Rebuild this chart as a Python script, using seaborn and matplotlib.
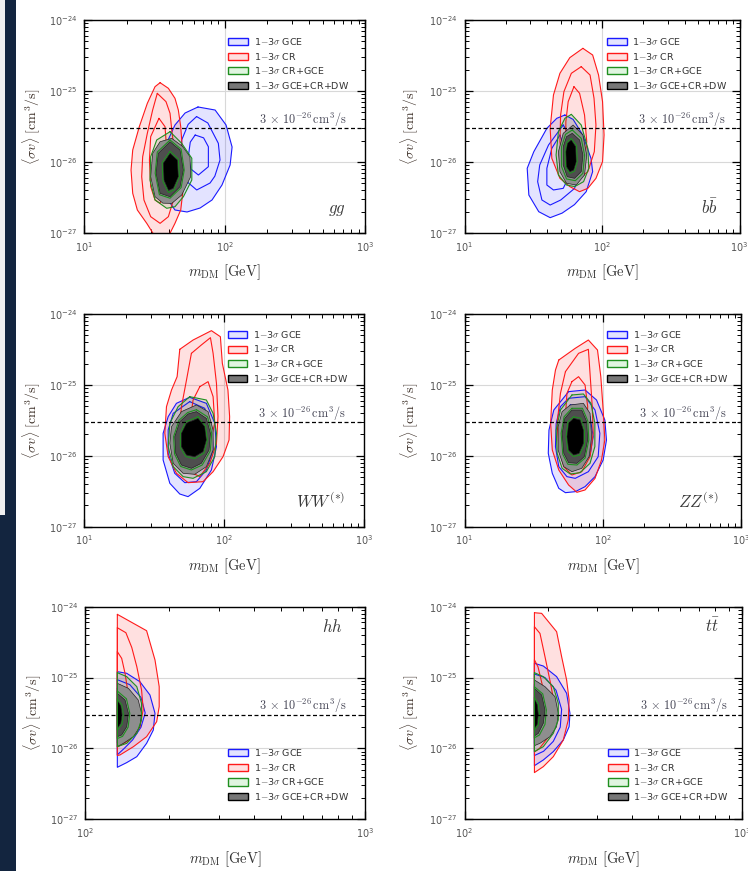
import numpy as np
import matplotlib
matplotlib.use("Agg")
import matplotlib.pyplot as plt
from matplotlib.patches import Patch, Rectangle
from matplotlib.ticker import NullFormatter, LogLocator, FuncFormatter
import seaborn as sns

# ---------------------------------------------------------------------------
# Contour vertices.
# Each point: (log10 m_DM [GeV], log10 <sigma v> [cm^3/s]); levels: 3s, 2s, 1s
# ---------------------------------------------------------------------------
gg_gce = [
    [(1.810,-25.225),(1.932,-25.268),(2.010,-25.479),(2.053,-25.789),(2.039,-26.042),(1.981,-26.324),(1.910,-26.535),(1.825,-26.648),(1.732,-26.704),(1.646,-26.676),(1.597,-26.535),(1.575,-26.113),(1.597,-25.690),(1.646,-25.479),(1.718,-25.310)],
    [(1.800,-25.36),(1.880,-25.45),(1.955,-25.737),(1.967,-25.972),(1.930,-26.20),(1.896,-26.296),(1.801,-26.394),(1.718,-26.254),(1.690,-25.95),(1.694,-25.69),(1.740,-25.47)],
    [(1.790,-25.62),(1.850,-25.66),(1.884,-25.785),(1.884,-26.066),(1.813,-26.183),(1.760,-26.10),(1.741,-25.925),(1.755,-25.72)],
]
gg_cr = [
    [(1.540,-24.883),(1.599,-24.962),(1.646,-25.103),(1.670,-25.268),(1.687,-25.502),(1.694,-25.690),(1.701,-25.972),(1.701,-26.441),(1.687,-26.676),(1.646,-26.864),(1.599,-27.05),(1.504,-27.05),(1.445,-26.864),(1.378,-26.676),(1.345,-26.441),(1.333,-26.113),(1.345,-25.831),(1.392,-25.502),(1.449,-25.174),(1.504,-24.939)],
    [(1.520,-25.033),(1.582,-25.150),(1.611,-25.315),(1.623,-25.549),(1.635,-25.737),(1.640,-26.113),(1.635,-26.535),(1.599,-26.770),(1.540,-26.864),(1.473,-26.770),(1.425,-26.535),(1.409,-26.207),(1.416,-25.925),(1.449,-25.596),(1.487,-25.268)],
    [(1.532,-25.385),(1.575,-25.502),(1.582,-25.690),(1.585,-26.0),(1.575,-26.347),(1.540,-26.582),(1.504,-26.535),(1.473,-26.347),(1.464,-25.972),(1.473,-25.643)],
]
gg_comb = [
    [(1.611,-25.573),(1.694,-25.737),(1.766,-25.948),(1.766,-26.254),(1.706,-26.489),(1.646,-26.630),(1.587,-26.652),(1.504,-26.535),(1.468,-26.254),(1.473,-25.925),(1.516,-25.690)],
    [(1.611,-25.69),(1.690,-25.82),(1.712,-26.113),(1.690,-26.36),(1.611,-26.51),(1.535,-26.46),(1.505,-26.159),(1.520,-25.86)],
    [(1.611,-25.85),(1.670,-25.96),(1.678,-26.207),(1.640,-26.39),(1.600,-26.43),(1.560,-26.27),(1.555,-26.01)],
]
gg_dw = [
    [(1.623,-25.667),(1.700,-25.78),(1.753,-25.925),(1.758,-26.207),(1.694,-26.465),(1.623,-26.583),(1.560,-26.58),(1.504,-26.489),(1.473,-26.207),(1.487,-25.878),(1.540,-25.714)],
    [(1.611,-25.714),(1.682,-25.831),(1.706,-26.113),(1.682,-26.348),(1.611,-26.489),(1.540,-26.441),(1.511,-26.159),(1.527,-25.878)],
    [(1.611,-25.878),(1.663,-25.972),(1.670,-26.207),(1.634,-26.370),(1.600,-26.40),(1.568,-26.254),(1.563,-26.018)],
]

bb_gce = [
    [(1.730,-25.338),(1.790,-25.40),(1.860,-25.62),(1.920,-25.95),(1.932,-26.136),(1.885,-26.418),(1.800,-26.60),(1.710,-26.72),(1.623,-26.784),(1.540,-26.70),(1.468,-26.465),(1.456,-26.089),(1.504,-25.855),(1.599,-25.526),(1.671,-25.385)],
    [(1.718,-25.479),(1.790,-25.714),(1.837,-26.089),(1.801,-26.371),(1.700,-26.535),(1.623,-26.606),(1.563,-26.535),(1.532,-26.277),(1.547,-26.042),(1.611,-25.761)],
    [(1.694,-25.620),(1.742,-25.901),(1.754,-26.230),(1.718,-26.371),(1.647,-26.394),(1.599,-26.324),(1.599,-26.089),(1.635,-25.808)],
]
bb_cr = [
    [(1.861,-24.399),(1.932,-24.493),(1.975,-24.775),(2.004,-25.150),(2.015,-25.620),(2.004,-25.995),(1.956,-26.230),(1.897,-26.371),(1.837,-26.418),(1.766,-26.347),(1.694,-26.230),(1.635,-25.948),(1.623,-25.526),(1.647,-25.056),(1.694,-24.751),(1.766,-24.530)],
    [(1.849,-24.657),(1.913,-24.775),(1.942,-25.103),(1.956,-25.479),(1.944,-25.855),(1.897,-26.136),(1.837,-26.230),(1.766,-26.183),(1.713,-25.995),(1.694,-25.714),(1.699,-25.338),(1.723,-25.009),(1.777,-24.751)],
    [(1.796,-24.939),(1.837,-25.033),(1.873,-25.338),(1.889,-25.714),(1.873,-25.995),(1.825,-26.089),(1.766,-26.042),(1.737,-25.808),(1.737,-25.432),(1.754,-25.150)],
]
bb_comb = [
    [(1.777,-25.329),(1.849,-25.479),(1.897,-25.808),(1.904,-26.089),(1.866,-26.277),(1.801,-26.347),(1.742,-26.324),(1.683,-26.183),(1.666,-25.901),(1.683,-25.573),(1.730,-25.385)],
    [(1.784,-25.549),(1.849,-25.667),(1.873,-25.901),(1.861,-26.160),(1.806,-26.263),(1.742,-26.239),(1.706,-26.066),(1.706,-25.784),(1.735,-25.610)],
    [(1.777,-25.67),(1.815,-25.77),(1.820,-25.995),(1.800,-26.13),(1.766,-26.16),(1.736,-26.08),(1.730,-25.855),(1.745,-25.72)],
]
bb_dw = [
    [(1.790,-25.479),(1.861,-25.620),(1.889,-25.901),(1.873,-26.183),(1.813,-26.324),(1.742,-26.300),(1.694,-26.136),(1.683,-25.855),(1.718,-25.596)],
    [(1.784,-25.596),(1.837,-25.690),(1.861,-25.901),(1.849,-26.136),(1.801,-26.230),(1.747,-26.207),(1.718,-26.042),(1.718,-25.784),(1.742,-25.643)],
    [(1.777,-25.690),(1.808,-25.784),(1.813,-25.995),(1.794,-26.113),(1.766,-26.136),(1.742,-26.066),(1.737,-25.855),(1.749,-25.737)],
]

ww_gce = [
    [(1.753,-25.175),(1.872,-25.260),(1.932,-25.542),(1.944,-25.871),(1.908,-26.200),(1.825,-26.459),(1.741,-26.576),(1.682,-26.539),(1.611,-26.388),(1.563,-26.059),(1.563,-25.683),(1.599,-25.448),(1.658,-25.260)],
    [(1.753,-25.236),(1.860,-25.330),(1.915,-25.636),(1.920,-25.918),(1.872,-26.200),(1.801,-26.365),(1.718,-26.379),(1.646,-26.247),(1.599,-25.965),(1.599,-25.636),(1.635,-25.401)],
    [(1.765,-25.354),(1.848,-25.448),(1.891,-25.730),(1.872,-26.012),(1.813,-26.177),(1.730,-26.200),(1.658,-26.083),(1.635,-25.824),(1.658,-25.542)],
]
ww_cr = [
    [(1.682,-24.498),(1.777,-24.367),(1.908,-24.235),(1.972,-24.320),(1.986,-24.696),(2.026,-25.072),(2.038,-25.448),(2.034,-25.777),(1.991,-26.012),(1.920,-26.224),(1.848,-26.365),(1.741,-26.379),(1.658,-26.247),(1.599,-26.012),(1.575,-25.683),(1.587,-25.307),(1.623,-25.072),(1.663,-24.884)],
    [(1.765,-24.555),(1.836,-24.437),(1.901,-24.334),(1.920,-24.555),(1.944,-24.978),(1.955,-25.448),(1.944,-25.824),(1.896,-26.106),(1.825,-26.294),(1.753,-26.224),(1.694,-26.106),(1.670,-25.777),(1.694,-25.307),(1.730,-24.931)],
    [(1.825,-25.025),(1.884,-24.954),(1.920,-25.166),(1.932,-25.542),(1.896,-25.824),(1.825,-25.918),(1.765,-25.824),(1.753,-25.542),(1.777,-25.213)],
]
ww_comb = [
    [(1.753,-25.166),(1.872,-25.213),(1.920,-25.401),(1.944,-25.683),(1.932,-26.012),(1.872,-26.224),(1.777,-26.318),(1.706,-26.294),(1.635,-26.153),(1.599,-25.871),(1.611,-25.542),(1.670,-25.307)],
    [(1.801,-25.35),(1.880,-25.45),(1.910,-25.683),(1.900,-25.93),(1.842,-26.13),(1.765,-26.20),(1.688,-26.15),(1.645,-25.975),(1.638,-25.730),(1.676,-25.50),(1.738,-25.39)],
    [(1.813,-25.45),(1.866,-25.58),(1.880,-25.777),(1.855,-25.96),(1.789,-26.04),(1.725,-26.01),(1.686,-25.88),(1.686,-25.68),(1.725,-25.52)],
]
ww_dw = [
    [(1.801,-25.283),(1.884,-25.377),(1.920,-25.636),(1.920,-25.918),(1.872,-26.153),(1.789,-26.261),(1.706,-26.247),(1.635,-26.106),(1.611,-25.824),(1.623,-25.589),(1.694,-25.377)],
    [(1.801,-25.377),(1.872,-25.472),(1.901,-25.683),(1.891,-25.918),(1.836,-26.106),(1.765,-26.177),(1.694,-26.130),(1.653,-25.965),(1.646,-25.730),(1.682,-25.519),(1.741,-25.410)],
    [(1.813,-25.472),(1.860,-25.589),(1.872,-25.777),(1.848,-25.942),(1.789,-26.012),(1.730,-25.989),(1.694,-25.871),(1.694,-25.683),(1.730,-25.542)],
]

zz_gce = [
    [(1.753,-25.095),(1.872,-25.072),(1.955,-25.213),(2.015,-25.495),(2.027,-25.777),(2.003,-26.059),(1.944,-26.294),(1.872,-26.435),(1.801,-26.506),(1.730,-26.520),(1.682,-26.459),(1.635,-26.247),(1.606,-25.965),(1.611,-25.636),(1.646,-25.354)],
    [(1.753,-25.189),(1.872,-25.166),(1.944,-25.354),(1.979,-25.683),(1.967,-26.012),(1.896,-26.224),(1.801,-26.318),(1.741,-26.294),(1.682,-26.153),(1.658,-25.871),(1.663,-25.542),(1.694,-25.307)],
    [(1.765,-25.283),(1.860,-25.283),(1.908,-25.448),(1.931,-25.730),(1.908,-25.989),(1.848,-26.130),(1.777,-26.177),(1.718,-26.083),(1.694,-25.824),(1.706,-25.495)],
]
zz_cr = [
    [(1.682,-24.649),(1.801,-24.484),(1.896,-24.367),(1.962,-24.508),(1.986,-24.884),(2.003,-25.354),(2.015,-25.777),(1.991,-26.059),(1.944,-26.318),(1.872,-26.482),(1.813,-26.515),(1.753,-26.412),(1.682,-26.200),(1.635,-25.918),(1.623,-25.542),(1.635,-25.072),(1.658,-24.790)],
    [(1.730,-24.813),(1.825,-24.555),(1.896,-24.498),(1.908,-24.837),(1.924,-25.307),(1.931,-25.683),(1.908,-26.012),(1.848,-26.224),(1.777,-26.271),(1.718,-26.153),(1.682,-25.871),(1.670,-25.542),(1.694,-25.119)],
    [(1.777,-24.954),(1.825,-24.884),(1.872,-25.001),(1.891,-25.307),(1.884,-25.636),(1.848,-25.871),(1.789,-25.918),(1.741,-25.777),(1.730,-25.448),(1.741,-25.119)],
]
zz_comb = [
    [(1.777,-25.142),(1.860,-25.128),(1.915,-25.260),(1.943,-25.542),(1.943,-25.871),(1.908,-26.106),(1.836,-26.238),(1.765,-26.257),(1.706,-26.177),(1.670,-25.965),(1.663,-25.636),(1.694,-25.354)],
    [(1.777,-25.33),(1.853,-25.33),(1.892,-25.51),(1.899,-25.777),(1.873,-26.03),(1.813,-26.13),(1.748,-26.12),(1.711,-25.98),(1.699,-25.683),(1.720,-25.45)],
    [(1.789,-25.45),(1.842,-25.47),(1.868,-25.636),(1.868,-25.84),(1.832,-25.99),(1.789,-26.01),(1.748,-25.94),(1.734,-25.730),(1.748,-25.52)],
]
zz_dw = [
    [(1.765,-25.283),(1.860,-25.260),(1.908,-25.401),(1.920,-25.730),(1.901,-26.012),(1.848,-26.177),(1.777,-26.224),(1.718,-26.153),(1.677,-25.918),(1.677,-25.589),(1.706,-25.377)],
    [(1.777,-25.354),(1.848,-25.354),(1.884,-25.519),(1.891,-25.777),(1.867,-26.012),(1.813,-26.106),(1.753,-26.097),(1.718,-25.965),(1.706,-25.683),(1.725,-25.472)],
    [(1.789,-25.472),(1.836,-25.495),(1.860,-25.636),(1.860,-25.824),(1.829,-25.965),(1.789,-25.989),(1.753,-25.918),(1.741,-25.730),(1.753,-25.542)],
]

hh_gce = [
    [(2.1155,-24.917),(2.149,-24.94),(2.196,-25.058),(2.232,-25.246),(2.250,-25.504),(2.244,-25.74),(2.220,-25.928),(2.185,-26.116),(2.149,-26.20),(2.1155,-26.266)],
    [(2.1155,-25.03),(2.16,-25.10),(2.20,-25.28),(2.215,-25.50),(2.20,-25.70),(2.17,-25.88),(2.14,-26.00),(2.1155,-26.09)],
    [(2.1155,-25.15),(2.15,-25.22),(2.18,-25.40),(2.185,-25.55),(2.17,-25.72),(2.14,-25.85),(2.1155,-25.92)],
]
hh_cr = [
    [(2.1155,-24.108),(2.220,-24.339),(2.250,-24.752),(2.265,-25.128),(2.265,-25.41),(2.256,-25.622),(2.220,-25.834),(2.173,-25.975),(2.125,-26.092),(2.1155,-26.10)],
    [(2.1155,-24.297),(2.146,-24.367),(2.167,-24.575),(2.185,-24.846),(2.202,-25.175),(2.208,-25.45),(2.196,-25.70),(2.160,-25.88),(2.1155,-25.98)],
    [(2.1155,-24.635),(2.131,-24.729),(2.143,-24.940),(2.155,-25.25),(2.155,-25.55),(2.140,-25.75),(2.1155,-25.85)],
]
hh_comb = [
    [(2.1155,-24.931),(2.149,-24.987),(2.185,-25.128),(2.202,-25.363),(2.202,-25.598),(2.185,-25.787),(2.149,-25.928),(2.1155,-25.975)],
    [(2.1155,-25.19),(2.148,-25.30),(2.160,-25.504),(2.154,-25.70),(2.134,-25.83),(2.1155,-25.86)],
    [(2.1155,-25.30),(2.132,-25.39),(2.137,-25.52),(2.132,-25.66),(2.1155,-25.74)],
]
hh_dw = [
    [(2.1155,-25.081),(2.155,-25.152),(2.190,-25.316),(2.202,-25.504),(2.196,-25.693),(2.173,-25.834),(2.137,-25.928),(2.1155,-25.975)],
    [(2.1155,-25.222),(2.143,-25.316),(2.155,-25.504),(2.149,-25.693),(2.131,-25.81),(2.1155,-25.834)],
    [(2.1155,-25.32),(2.128,-25.40),(2.132,-25.52),(2.128,-25.64),(2.1155,-25.72)],
]

tt_gce = [
    [(2.252,-24.799),(2.284,-24.837),(2.332,-24.987),(2.368,-25.222),(2.380,-25.504),(2.377,-25.693),(2.356,-25.881),(2.320,-26.045),(2.284,-26.163),(2.252,-26.243)],
    [(2.252,-24.95),(2.290,-25.00),(2.330,-25.18),(2.350,-25.45),(2.345,-25.70),(2.320,-25.90),(2.285,-26.04),(2.252,-26.10)],
    [(2.252,-25.10),(2.285,-25.15),(2.315,-25.32),(2.325,-25.52),(2.315,-25.72),(2.29,-25.86),(2.252,-25.93)],
]
tt_cr = [
    [(2.252,-24.085),(2.278,-24.094),(2.332,-24.353),(2.350,-24.705),(2.368,-25.034),(2.377,-25.316),(2.374,-25.598),(2.356,-25.881),(2.320,-26.116),(2.284,-26.257),(2.252,-26.341)],
    [(2.252,-24.283),(2.272,-24.377),(2.290,-24.705),(2.310,-25.08),(2.325,-25.40),(2.320,-25.65),(2.300,-25.85),(2.270,-26.00),(2.252,-26.05)],
    [(2.252,-24.75),(2.265,-24.85),(2.280,-25.10),(2.290,-25.40),(2.285,-25.62),(2.268,-25.80),(2.252,-25.86)],
]
tt_comb = [
    [(2.252,-24.931),(2.284,-24.987),(2.320,-25.128),(2.338,-25.363),(2.338,-25.598),(2.320,-25.787),(2.284,-25.975),(2.252,-26.045)],
    [(2.252,-25.13),(2.282,-25.23),(2.295,-25.457),(2.290,-25.66),(2.270,-25.81),(2.252,-25.85)],
    [(2.252,-25.28),(2.266,-25.37),(2.270,-25.52),(2.266,-25.67),(2.252,-25.74)],
]
tt_dw = [
    [(2.252,-25.034),(2.290,-25.128),(2.326,-25.269),(2.338,-25.504),(2.332,-25.693),(2.308,-25.834),(2.272,-25.928),(2.252,-25.961)],
    [(2.252,-25.152),(2.278,-25.246),(2.290,-25.457),(2.284,-25.645),(2.266,-25.787),(2.252,-25.824)],
    [(2.252,-25.30),(2.262,-25.38),(2.266,-25.52),(2.262,-25.66),(2.252,-25.72)],
]

channel_labels = [r"$gg$", r"$b\bar{b}$", r"$WW^{(*)}$", r"$ZZ^{(*)}$", r"$hh$", r"$t\bar{t}$"]
x_ranges = [(10, 1000), (10, 1000), (10, 1000), (10, 1000), (100, 1000), (100, 1000)]
y_range = (1e-27, 1e-24)
thermal_xsec = 3e-26
legend_labels = [r"1$-$3$\sigma$ GCE", r"1$-$3$\sigma$ CR",
                 r"1$-$3$\sigma$ CR+GCE", r"1$-$3$\sigma$ GCE+CR+DW"]

# ---------------------------------------------------------------------------
sns.set_style("ticks")
plt.rcParams["font.family"] = ["DejaVu Sans"]
plt.rcParams["mathtext.fontset"] = "cm"

W, H = 748, 871
fig = plt.figure(figsize=(W / 100, H / 100), dpi=100)
fig.patch.set_facecolor("white")
fig.patches.append(Rectangle((0, 0), 16 / W, 1, transform=fig.transFigure,
                             facecolor="#13253f", edgecolor="none", zorder=-5))
fig.patches.append(Rectangle((0, 1 - 515 / H), 5 / W, 515 / H, transform=fig.transFigure,
                             facecolor="#f0f0f0", edgecolor="none", zorder=-4))

# pixel boxes (left, right, top, bottom)
boxes = [(84.3, 365, 20, 233), (464.5, 739.5, 20, 233),
         (84.3, 364.3, 314, 526.7), (464.5, 741, 314, 526.7),
         (85, 365, 606.7, 819.3), (464.5, 742, 606.7, 819.3)]

panels = [
    (gg_gce, gg_cr, gg_comb, gg_dw),
    (bb_gce, bb_cr, bb_comb, bb_dw),
    (ww_gce, ww_cr, ww_comb, ww_dw),
    (zz_gce, zz_cr, zz_comb, zz_dw),
    (hh_gce, hh_cr, hh_comb, hh_dw),
    (tt_gce, tt_cr, tt_comb, tt_dw),
]

BLUE_F = (0.0, 0.0, 1.0, 0.11)
RED_F = (1.0, 0.0, 0.0, 0.12)
GREEN_F = (0.0, 0.45, 0.0, 0.10)
GRAYS = ["#8e8e8e", "#4e4e4e", "#000000"]
GREEN_L = "#1f8f1f"


def xy(poly):
    a = np.asarray(poly, dtype=float)
    a = np.vstack([a, a[:1]])
    return np.power(10.0, a[:, 0]), np.power(10.0, a[:, 1])


def outline(ax, poly, color, lw, z):
    x, y = xy(poly)
    sns.lineplot(x=x, y=y, sort=False, estimator=None, color=color, lw=lw,
                 zorder=z, ax=ax)


def pow_fmt(v, pos):
    e = int(round(np.log10(v)))
    return r"$\mathregular{10^{%d}}$" % e


for i, (box, sets) in enumerate(zip(boxes, panels)):
    l, r, t, b = box
    ax = fig.add_axes([l / W, 1 - b / H, (r - l) / W, (b - t) / H])
    ax.set_xscale("log")
    ax.set_yscale("log")
    ax.set_xlim(*x_ranges[i])
    ax.set_ylim(*y_range)
    gce, cr, comb, dw = sets

    # grid
    if i < 4:
        ax.grid(True, which="major", color="#d8d8d8", lw=0.8, zorder=0)
    else:
        ax.grid(True, which="major", axis="y", color="#d8d8d8", lw=0.8, zorder=0)
    ax.set_axisbelow(True)

    # GCE & CR fills and lines
    x, y = xy(gce[0]); ax.fill(x, y, facecolor=BLUE_F, edgecolor="none", zorder=1)
    x, y = xy(cr[0]); ax.fill(x, y, facecolor=RED_F, edgecolor="none", zorder=1.1)
    for p in gce:
        outline(ax, p, "#1a1aff", 0.8, 2)
    for p in cr:
        outline(ax, p, "#ff1a1a", 0.8, 2.1)
    # combined CR+GCE fill
    x, y = xy(comb[0]); ax.fill(x, y, facecolor=GREEN_F, edgecolor="none", zorder=2.5)
    # GCE+CR+DW filled levels
    for k, p in enumerate(dw):
        x, y = xy(p)
        ax.fill(x, y, facecolor=GRAYS[k], edgecolor="#222222", lw=0.5, zorder=3 + 0.1 * k)
    for p in comb:
        outline(ax, p, GREEN_L, 0.8, 4)

    # thermal cross section
    ax.axhline(thermal_xsec, color="black", ls=(0, (3.2, 2.0)), lw=0.9, zorder=5)
    tx = 0.935 if i % 2 == 0 else 0.949
    ax.text(tx, 0.512, r"$3\,\times\,10^{-26}\,\mathrm{cm^3/s}$", transform=ax.transAxes,
            ha="right", va="baseline", fontsize=8.8, color="#454555", zorder=6)

    # channel label
    if i < 4:
        ax.text(0.932 if i % 2 == 0 else 0.92, 0.115, channel_labels[i], transform=ax.transAxes,
                ha="right", va="center", fontsize=12, color="#3a3a3a", zorder=6)
        leg_y = 0.925 if i < 2 else 0.93
    else:
        ax.text(0.922 if i % 2 == 0 else 0.919, 0.906, channel_labels[i], transform=ax.transAxes,
                ha="right", va="center", fontsize=12, color="#3a3a3a", zorder=6)
        leg_y = 0.34
    leg_x = 0.512 if i % 2 == 0 else 0.517

    handles = [Patch(facecolor=BLUE_F, edgecolor="#1a1aff", lw=1.0),
               Patch(facecolor=RED_F, edgecolor="#ff1a1a", lw=1.0),
               Patch(facecolor=(0.88, 0.96, 0.88), edgecolor=GREEN_L, lw=1.0),
               Patch(facecolor="#777777", edgecolor="black", lw=1.0)]
    leg = ax.legend(handles, legend_labels, loc="upper left", bbox_to_anchor=(leg_x, leg_y),
                    frameon=False, fontsize=6.8, handlelength=2.1, handleheight=0.8,
                    handletextpad=0.6, labelspacing=0.38, borderpad=0, borderaxespad=0)
    for txt in leg.get_texts():
        txt.set_color("#333333")
    leg.set_zorder(7)

    # ticks
    ax.xaxis.set_minor_locator(LogLocator(base=10, subs=np.arange(2, 10)))
    ax.yaxis.set_minor_locator(LogLocator(base=10, subs=np.arange(2, 10)))
    ax.xaxis.set_major_formatter(FuncFormatter(pow_fmt))
    ax.yaxis.set_major_formatter(FuncFormatter(pow_fmt))
    ax.xaxis.set_minor_formatter(NullFormatter())
    ax.yaxis.set_minor_formatter(NullFormatter())
    ax.tick_params(which="both", direction="in", top=True, right=True, color="black")
    ax.tick_params(which="major", length=6, width=0.9, labelsize=7, labelcolor="#555555", pad=5)
    ax.tick_params(which="minor", length=3, width=0.7)
    for s in ax.spines.values():
        s.set_color("black")
        s.set_linewidth(1.0)

    ax.set_xlabel(r"$m_{\rm DM}\ [\rm GeV]$", fontsize=10.5, color="#333333")
    ax.set_ylabel(r"$\langle\sigma v\rangle\ [\rm cm^3/s]$", fontsize=10, color="#3d3028")
    ax.xaxis.set_label_coords(0.5, -0.14)
    ax.yaxis.set_label_coords(-0.148 if i % 2 == 0 else -0.158, 0.5)

fig.savefig("out.png", dpi=100, facecolor="white")
